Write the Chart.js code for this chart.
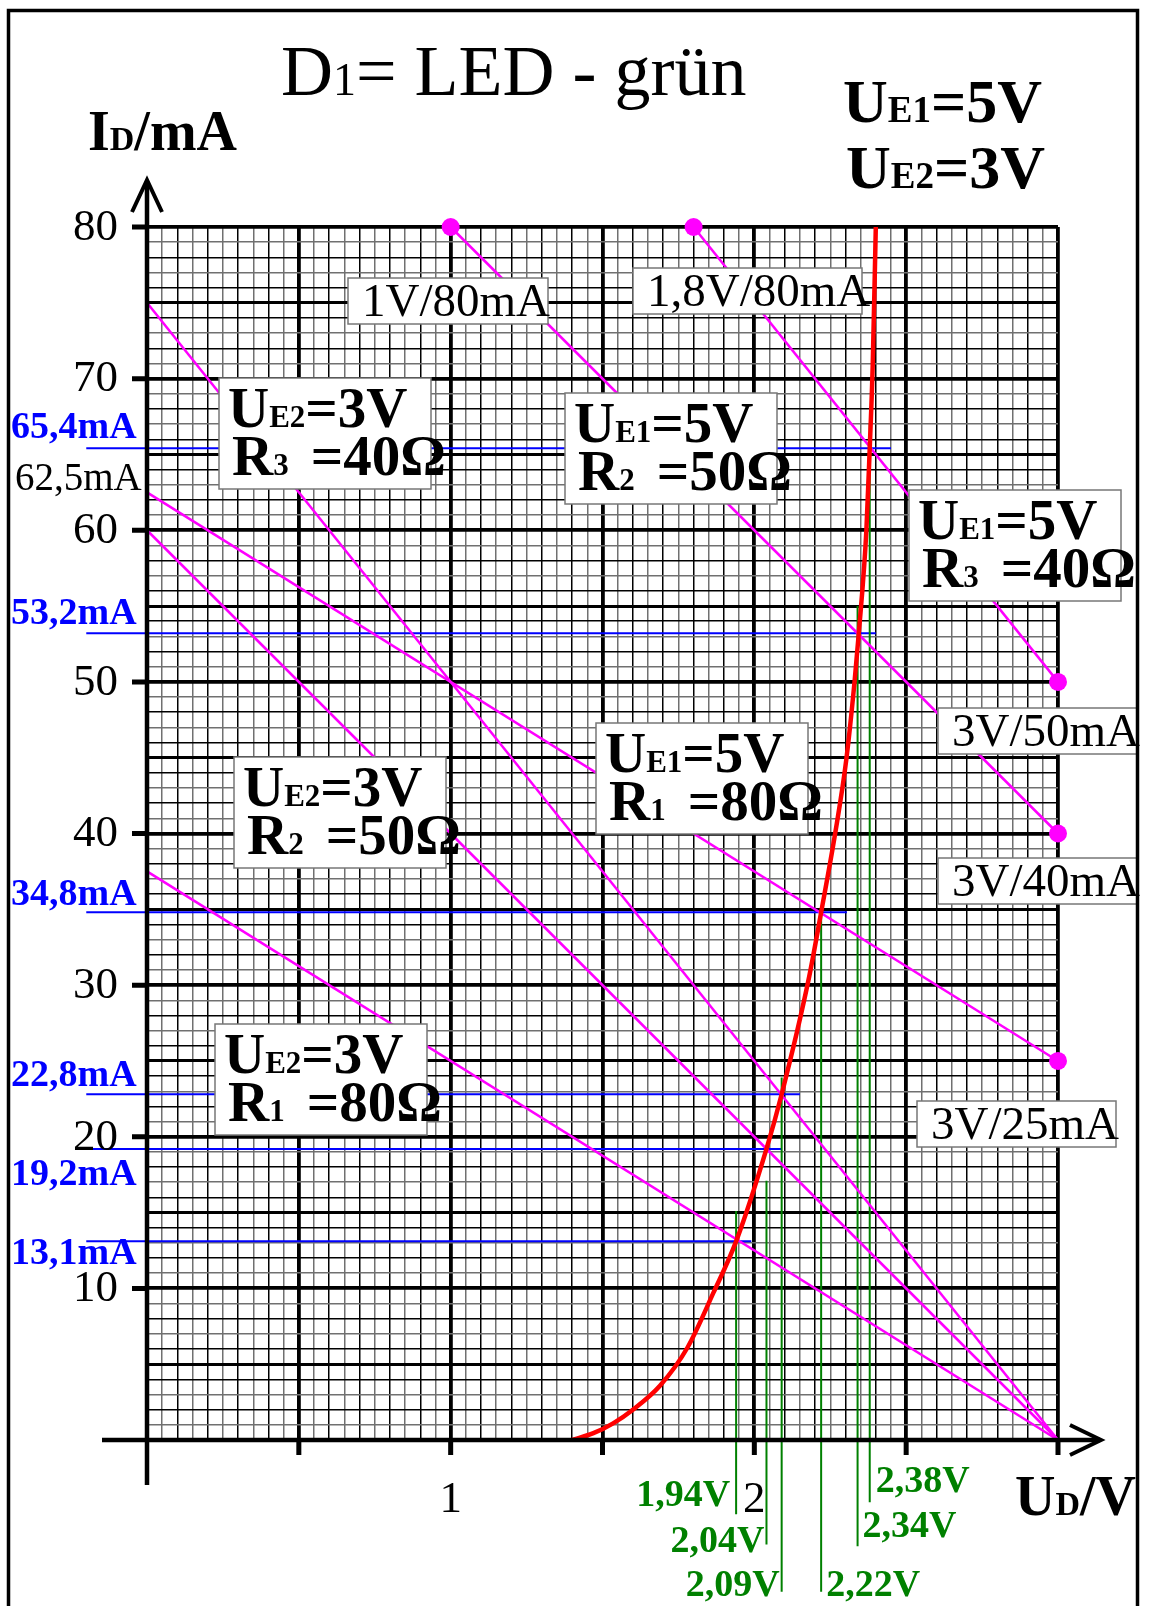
<!DOCTYPE html>
<html>
<head>
<meta charset="utf-8">
<title>D1 = LED - grün</title>
<script src="https://cdn.jsdelivr.net/npm/chart.js@4.4.1/dist/chart.umd.min.js"></script>
<style>
  html, body { margin: 0; padding: 0; background: #fff; }
  canvas { display: block; }
</style>
</head>
<body>
<canvas id="ledChart" width="1154" height="1606"></canvas>
<script>
// Kennlinie der grünen LED (U in V, I in mA)
const ledU = [1.40, 1.47, 1.535, 1.60, 1.69, 1.78, 1.865, 1.94, 2.04, 2.09, 2.178, 2.22, 2.267, 2.303, 2.33, 2.344, 2.369, 2.38, 2.39, 2.40];
const ledI = [0, 0.45, 1.1, 2.0, 3.6, 6.1, 9.7, 13.1, 19.2, 22.8, 30.3, 34.8, 40.1, 44.9, 50, 53.2, 60, 65.4, 71, 80];

// Arbeitsgeraden (Anfang / Ende)
const loadU0 = [0, 1, 1.8, 0, 0, 0];
const loadI0 = [62.5, 80, 80, 37.5, 60, 75];
const loadU1 = [3, 3, 3, 3, 3, 3];
const loadI1 = [25, 40, 50, 0, 0, 0];

// markierte Endpunkte
const dotU = [1, 1.8, 3, 3, 3];
const dotI = [80, 80, 50, 40, 25];
const dotLabels = ['1V/80mA', '1,8V/80mA', '3V/50mA', '3V/40mA', '3V/25mA'];

// Arbeitspunkte
const opU = [1.94, 2.04, 2.09, 2.22, 2.34, 2.38];
const opI = [13.1, 19.2, 22.8, 34.8, 53.2, 65.4];
const opULabels = ['1,94V', '2,04V', '2,09V', '2,22V', '2,34V', '2,38V'];
const opILabels = ['13,1mA', '19,2mA', '22,8mA', '34,8mA', '53,2mA', '65,4mA'];
// Hilfslinien: wie weit sie laufen
const hLineFromU = -0.2;
const hLineToU = [1.99, 2.09, 2.15, 2.305, 2.40, 2.45];
const vLineFromI = [-4.9, -6.9, -10, -10, -7, -4.1];
const vLineToI = [15.1, 17.1, 23.9, 35, 55, 67];

const yTicks = [10, 20, 30, 40, 50, 60, 70, 80];
const xTickMarks = [0.5, 1, 1.5, 2, 2.5, 3];
const xTickLabels = [1, 2];

const FONT = '"Liberation Serif", "Times New Roman", serif';

const datasets = [];
datasets.push({
    data: ledU.map((u, i) => ({ x: u, y: ledI[i] })),
    showLine: true, borderColor: '#ff0000', borderWidth: 4.5,
    pointRadius: 0, cubicInterpolationMode: 'monotone'
});
loadU0.forEach((u, i) => {
    datasets.push({
        data: [{ x: u, y: loadI0[i] }, { x: loadU1[i], y: loadI1[i] }],
        showLine: true, borderColor: '#ff00ff', borderWidth: 2.5, pointRadius: 0, clip: false
    });
});
datasets.push({
    data: dotU.map((u, i) => ({ x: u, y: dotI[i] })),
    showLine: false, pointRadius: 9, pointBackgroundColor: '#ff00ff', pointBorderWidth: 0, clip: false
});
opU.forEach((u, i) => {
    datasets.push({
        data: [{ x: u, y: vLineFromI[i] }, { x: u, y: vLineToI[i] }],
        showLine: true, borderColor: '#008000', borderWidth: 2, pointRadius: 0, clip: false
    });
});
opI.forEach((v, i) => {
    datasets.push({
        data: [{ x: hLineFromU, y: v }, { x: hLineToU[i], y: v }],
        showLine: true, borderColor: '#0000ff', borderWidth: 2, pointRadius: 0, clip: false
    });
});

function put(ctx, x, y, parts, color) {
    ctx.fillStyle = color || '#000';
    ctx.textAlign = 'left';
    ctx.textBaseline = 'alphabetic';
    for (const p of parts) {
        ctx.font = (p[2] ? 'bold ' : '') + p[1] + 'px ' + FONT;
        ctx.fillText(p[0], x, y);
        x += ctx.measureText(p[0]).width + (p[3] || 0);
    }
    return x;
}

// Beschriftungskästen
const bigBoxes = [
    { x: 219, y: 378, ue: 'E2', u: '=3V', r: '3', o: '=40Ω' },
    { x: 565, y: 393, ue: 'E1', u: '=5V', r: '2', o: '=50Ω' },
    { x: 909, y: 490, ue: 'E1', u: '=5V', r: '3', o: '=40Ω' },
    { x: 596, y: 723, ue: 'E1', u: '=5V', r: '1', o: '=80Ω' },
    { x: 234, y: 757, ue: 'E2', u: '=3V', r: '2', o: '=50Ω' },
    { x: 215, y: 1024, ue: 'E2', u: '=3V', r: '1', o: '=80Ω' }
];
const smallBoxes = [
    { x: 348, y: 278, w: 200 },
    { x: 633, y: 268, w: 229 },
    { x: 938, y: 708, w: 199 },
    { x: 938, y: 858, w: 200 },
    { x: 917, y: 1101, w: 199 }
];
// Textlage der Strom- und Spannungsmarken relativ zur Linie
const opILabelDy = [23, 36, -8, -7, -9, -10];
const opULabelPos = [
    { dx: -6, y: 1506, align: 'right' },
    { dx: -2, y: 1552, align: 'right' },
    { dx: -2, y: 1596, align: 'right' },
    { dx: 5, y: 1596, align: 'left' },
    { dx: 5, y: 1537, align: 'left' },
    { dx: 6, y: 1492, align: 'left' }
];

const sheet = {
    id: 'sheet',
    beforeDraw(chart) {
        const ctx = chart.ctx;
        ctx.save();
        ctx.fillStyle = '#fff';
        ctx.fillRect(0, 0, chart.width, chart.height);
        ctx.restore();
    },
    afterDraw(chart) {
        const ctx = chart.ctx;
        const xs = chart.scales.x, ys = chart.scales.y;
        const x0 = xs.getPixelForValue(0), y0 = ys.getPixelForValue(0);
        const xTop = ys.getPixelForValue(80), xEnd = xs.getPixelForValue(3);
        ctx.save();
        ctx.strokeStyle = '#000';
        ctx.lineCap = 'butt';
        ctx.lineJoin = 'miter';

        // Achsen mit Pfeilen
        ctx.lineWidth = 4.5;
        ctx.beginPath();
        ctx.moveTo(x0, y0 + 45); ctx.lineTo(x0, xTop - 46);
        ctx.moveTo(x0 - 45, y0); ctx.lineTo(xEnd + 42, y0);
        ctx.stroke();
        ctx.lineWidth = 4;
        ctx.beginPath();
        ctx.moveTo(x0 - 15, xTop - 15); ctx.lineTo(x0, xTop - 47); ctx.lineTo(x0 + 15, xTop - 15);
        ctx.moveTo(xEnd + 12, y0 - 15); ctx.lineTo(xEnd + 43, y0); ctx.lineTo(xEnd + 12, y0 + 15);
        ctx.stroke();

        // Teilstriche
        ctx.lineWidth = 5;
        ctx.beginPath();
        yTicks.forEach(v => { const p = ys.getPixelForValue(v); ctx.moveTo(x0 - 15, p); ctx.lineTo(x0, p); });
        xTickMarks.forEach(v => { const p = xs.getPixelForValue(v); ctx.moveTo(p, y0); ctx.lineTo(p, y0 + 15); });
        ctx.stroke();

        // Achsenbeschriftung
        ctx.fillStyle = '#000';
        ctx.font = '45px ' + FONT;
        ctx.textAlign = 'right';
        ctx.textBaseline = 'middle';
        yTicks.forEach(v => ctx.fillText(String(v), x0 - 29, ys.getPixelForValue(v) + 1));
        ctx.textAlign = 'center';
        ctx.textBaseline = 'alphabetic';
        xTickLabels.forEach(v => ctx.fillText(String(v), xs.getPixelForValue(v), 1512));

        // Strom- und Spannungswerte
        ctx.font = 'bold 38px ' + FONT;
        ctx.fillStyle = '#0000ff';
        ctx.textAlign = 'left';
        opILabels.forEach((t, i) => ctx.fillText(t, 11, ys.getPixelForValue(opI[i]) + opILabelDy[i]));
        ctx.fillStyle = '#008000';
        opULabels.forEach((t, i) => {
            ctx.textAlign = opULabelPos[i].align;
            ctx.fillText(t, xs.getPixelForValue(opU[i]) + opULabelPos[i].dx, opULabelPos[i].y);
        });
        ctx.fillStyle = '#000';
        ctx.textAlign = 'left';
        ctx.font = '39px ' + FONT;
        ctx.fillText('62,5mA', 15, ys.getPixelForValue(62.5) - 2);

        // kleine Kästen an den Endpunkten
        ctx.lineWidth = 1.5;
        ctx.strokeStyle = '#777';
        smallBoxes.forEach((b, i) => {
            ctx.fillStyle = '#fff';
            ctx.fillRect(b.x, b.y, b.w, 46);
            ctx.strokeRect(b.x, b.y, b.w, 46);
            put(ctx, b.x + 14, b.y + 38, [[dotLabels[i], 47, false]]);
        });

        // große Kästen
        bigBoxes.forEach(b => {
            ctx.fillStyle = '#fff';
            ctx.fillRect(b.x, b.y, 212, 111);
            ctx.strokeRect(b.x, b.y, 212, 111);
            put(ctx, b.x + 9, b.y + 49, [['U', 57, true], [b.ue, 31, true], [b.u, 57, true]]);
            put(ctx, b.x + 13, b.y + 97, [['R', 57, true], [b.r, 31, true, 22], [b.o, 57, true]]);
        });

        // Titel und Achsentitel
        put(ctx, 281, 95, [['D', 72, false], ['1', 46, false], ['= LED - grün', 72, false]]);
        put(ctx, 88, 150, [['I', 56, true], ['D', 34, true], ['/mA', 56, true]]);
        put(ctx, 1015, 1515, [['U', 56, true], ['D', 34, true], ['/V', 56, true]]);
        put(ctx, 843, 122, [['U', 62, true], ['E1', 37, true], ['=5V', 62, true]]);
        put(ctx, 846, 188, [['U', 62, true], ['E2', 37, true], ['=3V', 62, true]]);

        // Rahmen
        ctx.strokeStyle = '#000';
        ctx.lineWidth = 3.5;
        ctx.strokeRect(8.5, 10.5, 1129, 1700);
        ctx.restore();
    }
};

function xGrid(v) {
    const k = Math.round(v * 20);
    if (k % 10 === 0) return 'thick';
    return k % 2 === 0 ? 'black' : 'gray';
}
function yGrid(v) {
    const k = Math.round(v);
    if (k % 10 === 0) return 'thick';
    if (k % 5 === 0) return 'mid';
    return k % 2 === 0 ? 'black' : 'gray';
}
const gridColor = { thick: '#000', mid: '#000', black: '#000', gray: '#707070' };
const gridWidth = { thick: 3.8, mid: 3.0, black: 1.5, gray: 1.5 };

new Chart(document.getElementById('ledChart').getContext('2d'), {
    type: 'scatter',
    data: { datasets: datasets },
    options: {
        responsive: false,
        animation: false,
        devicePixelRatio: 1,
        layout: { padding: { left: 147, right: 96, top: 227, bottom: 166 } },
        plugins: { legend: { display: false }, tooltip: { enabled: false } },
        scales: {
            x: {
                type: 'linear', min: 0, max: 3,
                ticks: { display: false, stepSize: 0.05 },
                border: { display: false },
                grid: {
                    drawTicks: false,
                    color: c => gridColor[xGrid(c.tick.value)],
                    lineWidth: c => gridWidth[xGrid(c.tick.value)]
                },
                afterFit: s => { s.height = 0; }
            },
            y: {
                type: 'linear', min: 0, max: 80,
                ticks: { display: false, stepSize: 1 },
                border: { display: false },
                grid: {
                    drawTicks: false,
                    color: c => gridColor[yGrid(c.tick.value)],
                    lineWidth: c => gridWidth[yGrid(c.tick.value)]
                },
                afterFit: s => { s.width = 0; }
            }
        }
    },
    plugins: [sheet]
});
</script>
</body>
</html>
